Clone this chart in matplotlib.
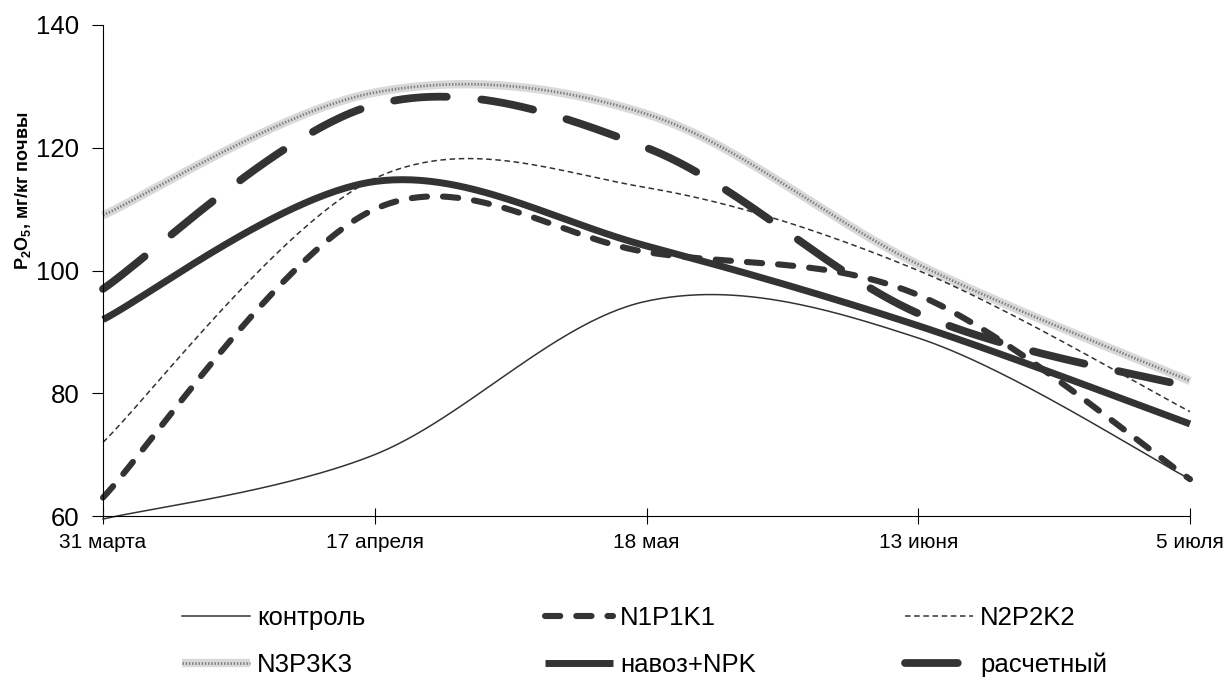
import numpy as np
import matplotlib
matplotlib.use("Agg")
import matplotlib.pyplot as plt
import matplotlib.lines as mlines

plt.rcParams["font.family"] = ["Liberation Sans", "DejaVu Sans"]
plt.rcParams["mathtext.fontset"] = "custom"
plt.rcParams["mathtext.rm"] = "Liberation Sans:bold"
plt.rcParams["mathtext.bf"] = "Liberation Sans:bold"
plt.rcParams["lines.scale_dashes"] = False

# data
dates = ["31 марта", "17 апреля", "18 мая", "13 июня", "5 июля"]
kontrol = [59.5, 70, 95, 89, 66]
n1p1k1 = [63, 110, 103, 96, 66]
n2p2k2 = [72, 115, 113.5, 100, 77]
n3p3k3 = [109, 129, 125.5, 101, 82]
navoz_npk = [92, 114.5, 104, 91, 75]
raschet = [97, 127, 120, 93, 81]

DARK = "#333333"


def smooth(vals, n=60):
    # Excel-style smoothed line: cubic Bezier through the points
    pts = np.column_stack([np.arange(len(vals), dtype=float), np.asarray(vals, float)])
    ext = np.vstack([pts[0], pts, pts[-1]])
    t = np.linspace(0, 1, n)[:, None]
    out = []
    for i in range(len(pts) - 1):
        p0, p3 = pts[i], pts[i + 1]
        p1 = p0 + (ext[i + 2] - ext[i]) / 6
        p2 = p3 - (ext[i + 3] - ext[i + 1]) / 6
        seg = (1 - t) ** 3 * p0 + 3 * (1 - t) ** 2 * t * p1 + 3 * (1 - t) * t ** 2 * p2 + t ** 3 * p3
        out.append(seg if i == 0 else seg[1:])
    out = np.vstack(out)
    return out[:, 0], out[:, 1]


fig = plt.figure(figsize=(12.29, 6.77), dpi=100)
ax = fig.add_axes([103 / 1229, 1 - 516 / 677, (1190 - 103) / 1229, (516 - 25) / 677])

x, y = smooth(n3p3k3)
ax.plot(x, y, color="#d9d9d9", lw=6, solid_capstyle="butt", clip_on=False)
ax.plot(x, y, color="#7e7e7e", lw=2, dashes=(1.0, 1.3), clip_on=False)

x, y = smooth(kontrol)
h_k = ax.plot(x, y, color=DARK, lw=1.1, clip_on=False)[0]

x, y = smooth(n2p2k2)
h_n2 = ax.plot(x, y, color=DARK, lw=1.1, dashes=(4, 2.6), clip_on=False)[0]

x, y = smooth(navoz_npk)
h_nav = ax.plot(x, y, color=DARK, lw=5, solid_capstyle="butt", clip_on=False)[0]

x, y = smooth(n1p1k1)
h_n1 = ax.plot(x, y, color=DARK, lw=4.4, dashes=(11, 11.5), dash_capstyle="round", clip_on=False)[0]

x, y = smooth(raschet)
h_r = ax.plot(x, y, color=DARK, lw=5.6, dashes=(38, 25), dash_capstyle="round", clip_on=False)[0]

ax.set_xlim(0, len(dates) - 1)
ax.set_ylim(60, 140)
ax.set_yticks([60, 80, 100, 120, 140])
ax.set_xticks(range(len(dates)))
ax.set_xticklabels(dates, fontsize=15)
ax.tick_params(axis="y", labelsize=18.5, direction="out", length=8, width=0.8, pad=9)
ax.tick_params(axis="x", direction="inout", length=12, width=0.8, pad=6)
for s in ["top", "right"]:
    ax.spines[s].set_visible(False)
for s in ["left", "bottom"]:
    ax.spines[s].set_linewidth(0.8)
ax.set_ylabel("P$_2$O$_5$, мг/кг почвы", fontsize=13, fontweight="bold")
ax.yaxis.set_label_coords(-0.064, 0.662)

# legend: three columns, two rows
n3_proxy = (mlines.Line2D([], [], color="#d9d9d9", lw=6, solid_capstyle="butt"),
            mlines.Line2D([], [], color="#7e7e7e", lw=2, dashes=(1.0, 1.3)))
columns = [([h_k, n3_proxy], ["контроль", "N3P3K3"], 182),
           ([h_n1, h_nav], ["N1P1K1", "навоз+NPK"], 545),
           ([h_n2, h_r], ["N2P2K2", "расчетный"], 905)]
fs = 18.5
em = fs * 100 / 72
for handles, labels, xpix in columns:
    fig.legend(handles, labels, loc="upper left", bbox_to_anchor=(xpix / 1229, 1 - 606 / 677),
               frameon=False, fontsize=fs, handlelength=68 / em, handletextpad=7 / em,
               borderpad=0, borderaxespad=0, labelspacing=0.88)

fig.savefig("out.png", dpi=100)
